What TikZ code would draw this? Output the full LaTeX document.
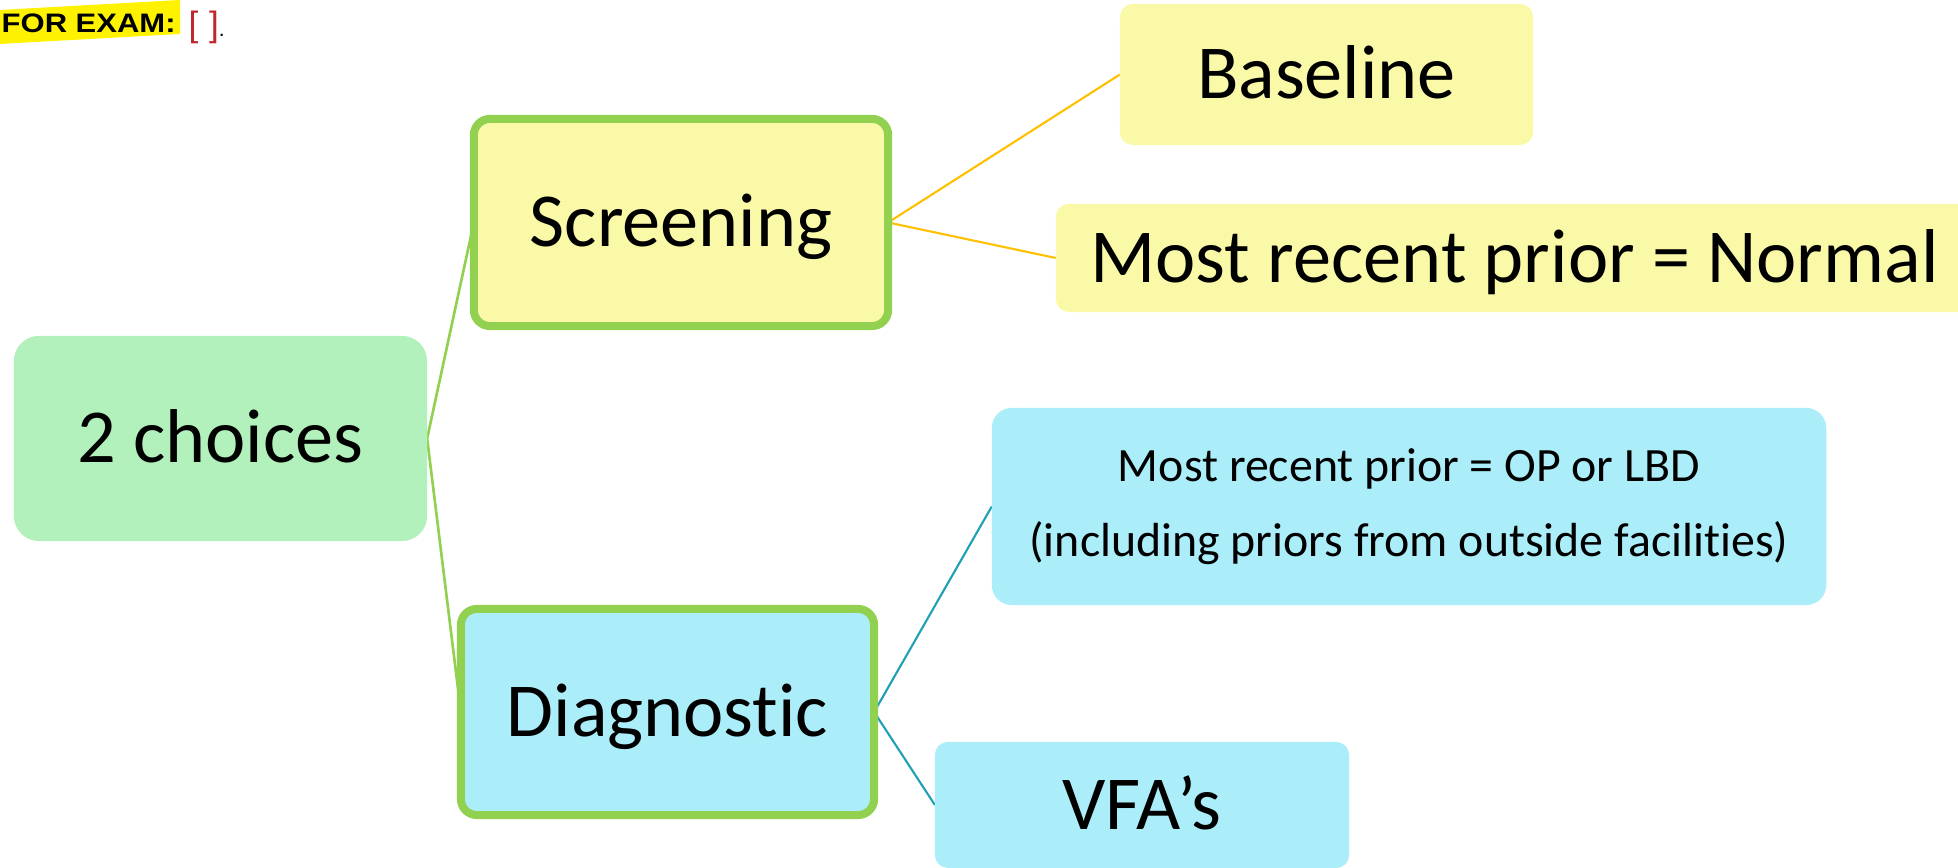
\documentclass[tikz,border=0pt]{standalone}
\usepackage{graphicx}
\usepackage{fontspec}
\setmainfont{Carlito}[Ligatures=NoCommon]
\newfontfamily\examfont{Liberation Sans}
\usetikzlibrary{backgrounds}
\definecolor{leafgreen}{HTML}{92D050}
\definecolor{rootfill}{HTML}{B2F0BC}
\definecolor{screenfill}{HTML}{FAF9A8}
\definecolor{diagfill}{HTML}{ABEDF9}
\definecolor{screenline}{HTML}{FFC000}
\definecolor{diagline}{HTML}{1FA0B6}
\definecolor{examred}{HTML}{C0262D}
\tikzset{
  box/.style={rounded corners=2mm,inner sep=0pt,outer sep=0pt,align=center},
  bigtext/.style={font=\fontsize{21.7}{26}\selectfont,text height=13.8pt,text depth=0pt},
  branch/.style={box,bigtext,draw=leafgreen,line width=0.8mm,rounded corners=1.6mm},
  leaf/.style={box,bigtext,rounded corners=1.3mm},
  link/.style={line width=0.6pt}
}

\begin{document}
\begin{tikzpicture}[x=0.01cm,y=-0.01cm]
    \useasboundingbox (0,0) rectangle (1958,868);

    \fill [yellow] (0,10) -- (180,0) -- (180,34) -- (0,44) -- cycle;
    \node [anchor=base west,inner sep=0pt,font=\examfont\bfseries\fontsize{7.6}{9}\selectfont] (exam) at (1,33) {\scalebox{1.16}[1]{FOR EXAM:}};
    \node [anchor=base west,inner sep=0pt,font=\examfont\fontsize{10}{12}\selectfont,text=examred] (slot) at (188,37) {[\kern3pt]{\color{black}\fontsize{6}{7}\selectfont.}};

    \node [box,bigtext,fill=rootfill,rounded corners=2.5mm,minimum width=4.13cm,minimum height=2.05cm] (choices) at (220.5,438.5) {2 choices};
    \node [branch,fill=screenfill,minimum width=4.14cm,minimum height=2.07cm] (screening) at (681,222.5) {Screening};
    \node [branch,fill=diagfill,minimum width=4.13cm,minimum height=2.06cm] (diagnostic) at (667.5,712) {Diagnostic};

    \node [leaf,fill=screenfill,minimum width=4.13cm,minimum height=1.41cm] (baseline) at (1326.5,74.5) {Baseline};
    \node [leaf,fill=screenfill,minimum width=9.17cm,minimum height=1.08cm] (normal) at (1514.5,258) {Most recent prior = Normal};
    \node [box,fill=diagfill,font=\fontsize{13.6}{21.3}\selectfont,minimum width=8.34cm,minimum height=1.97cm] (oplbd) at (1409,506.5) {Most recent prior = OP or LBD\\(including priors from outside facilities)};
    \node [leaf,fill=diagfill,minimum width=4.14cm,minimum height=1.26cm] (vfa) at (1142,805) {VFA’s};

    \begin{scope}[on background layer]
      \draw [link,leafgreen,line width=0.75pt] (choices.east) -- (screening.west);
      \draw [link,leafgreen,line width=0.75pt] (choices.east) -- (diagnostic.west);
      \draw [link,screenline] (screening.east) -- (baseline.west);
      \draw [link,screenline] (screening.east) -- (normal.west);
      \draw [link,diagline] (diagnostic.east) -- (oplbd.west);
      \draw [link,diagline] (diagnostic.east) -- (vfa.west);
    \end{scope}
\end{tikzpicture}
\end{document}
